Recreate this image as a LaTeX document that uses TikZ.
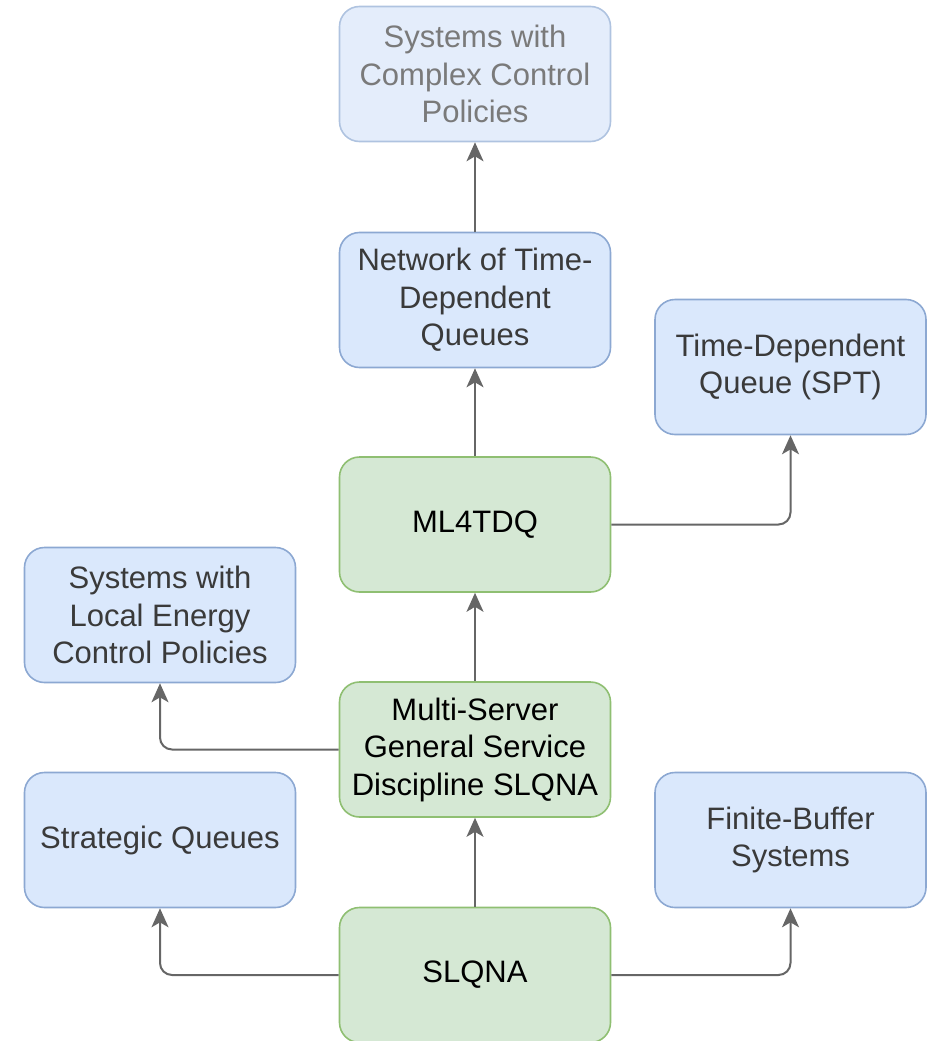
\documentclass[tikz,border=0pt]{standalone}
\usepackage{fontspec}
\setmainfont{Liberation Sans}
\usetikzlibrary{arrows.meta}
\definecolor{bluefill}{HTML}{DAE8FC}
\definecolor{blueline}{HTML}{8CA8D2}
\definecolor{bluetext}{HTML}{3A3A3A}
\definecolor{greenfill}{HTML}{D5E8D4}
\definecolor{greenline}{HTML}{8FBF72}
\definecolor{fadefill}{HTML}{E4EDFB}
\definecolor{fadeline}{HTML}{AFC3E0}
\definecolor{fadetext}{HTML}{7A7A7A}
\definecolor{linkgray}{HTML}{666666}
\begin{document}
\begin{tikzpicture}[x=1pt,y=-1pt,
  card/.style={rounded corners=20pt, minimum width=271pt, minimum height=135pt,
    inner sep=0pt, align=center, line width=1.6pt,
    font=\fontsize{31pt}{37.5pt}\selectfont},
  bluecard/.style={card, draw=blueline, fill=bluefill, text=bluetext},
  greencard/.style={card, draw=greenline, fill=greenfill, text=black},
  fadedcard/.style={card, draw=fadeline, fill=fadefill, text=fadetext},
  link/.style={draw=linkgray, line width=2pt, rounded corners=12pt,
    -{Stealth[length=19pt,width=17pt,inset=5pt]}}]
\useasboundingbox (0,0) rectangle (931,1041);

% boxes
\node[fadedcard] (complex) at (475,74) {Systems with\\Complex Control\\Policies};
\node[bluecard] (network) at (475,300) {Network of Time-\\Dependent\\Queues};
\node[bluecard] (tdq) at (790.5,367) {Time-Dependent\\Queue (SPT)};
\node[greencard] (ml) at (475,524.5) {ML4TDQ};
\node[bluecard] (energy) at (160,615) {Systems with\\Local Energy\\Control Policies};
\node[greencard] (multi) at (475,749.5) {Multi-Server\\General Service\\Discipline SLQNA};
\node[bluecard] (strategic) at (160,840) {Strategic Queues};
\node[bluecard] (finite) at (790.5,840) {Finite-Buffer\\Systems};
\node[greencard] (slqna) at (475,975) {SLQNA};

% connectors
\draw[link] (slqna.north) -- (multi.south);
\draw[link] (multi.north) -- (ml.south);
\draw[link] (ml.north) -- (network.south);
\draw[link] (network.north) -- (complex.south);
\draw[link] (ml.east) -| (tdq.south);
\draw[link] (multi.west) -| (energy.south);
\draw[link] (slqna.west) -| (strategic.south);
\draw[link] (slqna.east) -| (finite.south);
\end{tikzpicture}
\end{document}
